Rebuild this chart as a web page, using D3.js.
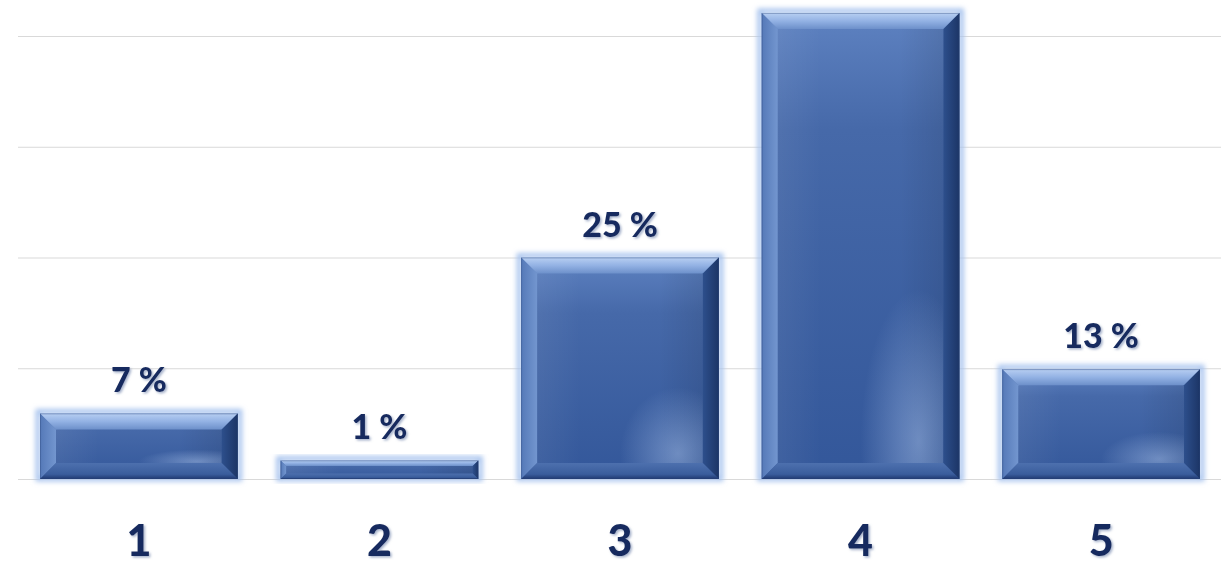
<!DOCTYPE html>
<html>
<head>
<meta charset="utf-8">
<script src="https://cdn.jsdelivr.net/npm/d3@7"></script>
<style>
  html, body { margin: 0; padding: 0; background: #ffffff; }
  svg { display: block; }
</style>
</head>
<body>
<svg id="chart" width="1221" height="567"></svg>
<script>
// ---- DATA ----
const categories = ["1", "2", "3", "4", "5"];
const values = [7.4, 2.1, 25, 52.6, 12.4];            // bar heights (percent scale)
const valueLabels = ["7 %", "1 %", "25 %", "", "13 %"]; // printed labels (bar 4 has none)
const gridTicks = [0, 12.5, 25, 37.5, 50];

// ---- LAYOUT ----
const W = 1221, H = 567;
const svg = d3.select("#chart");
const x = d3.scaleBand().domain(categories).range([18.6, 1221.4]).paddingInner(0.178).paddingOuter(0.089);
const y = d3.scaleLinear().domain([0, 50]).range([479, 36]);

const defs = svg.append("defs");
function lin(id, x1, y1, x2, y2, stops) {
  const g = defs.append("linearGradient").attr("id", id)
    .attr("x1", x1).attr("y1", y1).attr("x2", x2).attr("y2", y2);
  stops.forEach(s => g.append("stop").attr("offset", s[0]).attr("stop-color", s[1]).attr("stop-opacity", s[2] == null ? 1 : s[2]));
}
lin("gTop", 0, 0, 0, 1, [[0, "#b8cff2"], [0.5, "#93b2e4"], [1, "#6d90ca"]]);
lin("gLeft", 0, 0, 1, 0, [[0, "#5579b8"], [1, "#7396cf"]]);
lin("gRight", 0, 0, 1, 0, [[0, "#2d4f8c"], [1, "#1c3566"]]);
lin("gBottom", 0, 0, 0, 1, [[0, "#4d70ae"], [0.7, "#3a5d9c"], [1, "#1f3870"]]);
lin("gFace", 0, 0, 0, 1, [[0, "#5e82c1"], [0.25, "#4669a9"], [1, "#33579a"]]);
lin("gFaceH", 0, 0, 1, 0, [[0, "#ffffff", 0.08], [0.3, "#ffffff", 0], [0.7, "#000000", 0], [1, "#000000", 0.12]]);
const rg = defs.append("radialGradient").attr("id", "gSpot").attr("cx", 0.85).attr("cy", 0.95).attr("r", 0.35);
rg.append("stop").attr("offset", 0).attr("stop-color", "#a9c2ea").attr("stop-opacity", 0.5);
rg.append("stop").attr("offset", 1).attr("stop-color", "#a9c2ea").attr("stop-opacity", 0);

const glow = defs.append("filter").attr("id", "glow").attr("x", "-10%").attr("y", "-20%").attr("width", "120%").attr("height", "140%");
glow.append("feGaussianBlur").attr("stdDeviation", 2.5);

const shadow = defs.append("filter").attr("id", "tshadow").attr("x", "-10%").attr("y", "-10%").attr("width", "130%").attr("height", "125%");
shadow.append("feDropShadow").attr("dx", 1.5).attr("dy", 1.5).attr("stdDeviation", 1.2).attr("flood-color", "#6b7fa8").attr("flood-opacity", 0.6);

// ---- GRIDLINES ----
const grid = svg.append("g").attr("transform", `translate(18,0)`)
  .call(d3.axisLeft(y).tickValues(gridTicks).tickSize(-(W - 18)).tickFormat(""));
grid.select(".domain").remove();
grid.selectAll(".tick line").attr("stroke", "#d9d9d9").attr("stroke-width", 1);

// ---- BARS ----
const data = categories.map((c, i) => ({ c, v: values[i], label: valueLabels[i] }));
const base = y(0);
const bars = svg.append("g").selectAll("g.bar")
  .data(data)
  .enter().append("g").attr("class", "bar");

bars.each(function (d) {
  const g = d3.select(this);
  const x0 = x(d.c), x1 = x(d.c) + x.bandwidth();
  const y0 = y(d.v), y1 = base;
  const h = y1 - y0;
  const b = Math.min(16, h * 0.3);
  const pts = a => a.map(p => p.join(",")).join(" ");
  // glow
  g.append("rect").attr("x", x0 - 2).attr("y", y0 - 2).attr("width", x1 - x0 + 4).attr("height", h + 2)
    .attr("fill", "none").attr("stroke", "#a9c4ee").attr("stroke-width", 5).attr("filter", "url(#glow)");
  // face
  g.append("rect").attr("x", x0).attr("y", y0).attr("width", x1 - x0).attr("height", h).attr("fill", "url(#gFace)");
  g.append("rect").attr("x", x0).attr("y", y0).attr("width", x1 - x0).attr("height", h).attr("fill", "url(#gFaceH)");
  if (h > 60) g.append("rect").attr("x", x0 + b).attr("y", y0 + b).attr("width", x1 - x0 - 2 * b).attr("height", h - 2 * b).attr("fill", "url(#gSpot)");
  // bevels
  g.append("polygon").attr("points", pts([[x0, y0], [x1, y0], [x1 - b, y0 + b], [x0 + b, y0 + b]])).attr("fill", "url(#gTop)");
  g.append("polygon").attr("points", pts([[x0, y0], [x0 + b, y0 + b], [x0 + b, y1 - b], [x0, y1]])).attr("fill", "url(#gLeft)");
  g.append("polygon").attr("points", pts([[x1, y0], [x1, y1], [x1 - b, y1 - b], [x1 - b, y0 + b]])).attr("fill", "url(#gRight)");
  g.append("polygon").attr("points", pts([[x0, y1], [x0 + b, y1 - b], [x1 - b, y1 - b], [x1, y1]])).attr("fill", "url(#gBottom)");
  // edges
  g.append("rect").attr("x", x0 + 0.5).attr("y", y0 + 0.5).attr("width", x1 - x0 - 1).attr("height", h - 1)
    .attr("fill", "none").attr("stroke", "#2a4679").attr("stroke-opacity", 0.35).attr("stroke-width", 1);
});

// ---- VALUE LABELS ----
svg.append("g").selectAll("text")
  .data(data.filter(d => d.label))
  .enter().append("text")
  .attr("x", d => x(d.c) + x.bandwidth() / 2)
  .attr("y", d => y(d.v) - 21)
  .attr("text-anchor", "middle")
  .attr("font-family", "Lato, 'Open Sans', sans-serif")
  .attr("font-weight", 900)
  .attr("font-size", 34)
  .attr("fill", "#172a5e")
  .attr("filter", "url(#tshadow)")
  .text(d => d.label);

// ---- CATEGORY AXIS ----
const xa = svg.append("g").attr("transform", `translate(0,${base})`)
  .call(d3.axisBottom(x).tickSize(0).tickPadding(46));
xa.select(".domain").remove();
xa.selectAll("text")
  .attr("font-family", "Lato, 'Open Sans', sans-serif")
  .attr("font-weight", 900)
  .attr("font-size", 43)
  .attr("fill", "#172a5e")
  .attr("filter", "url(#tshadow)");
</script>
</body>
</html>
